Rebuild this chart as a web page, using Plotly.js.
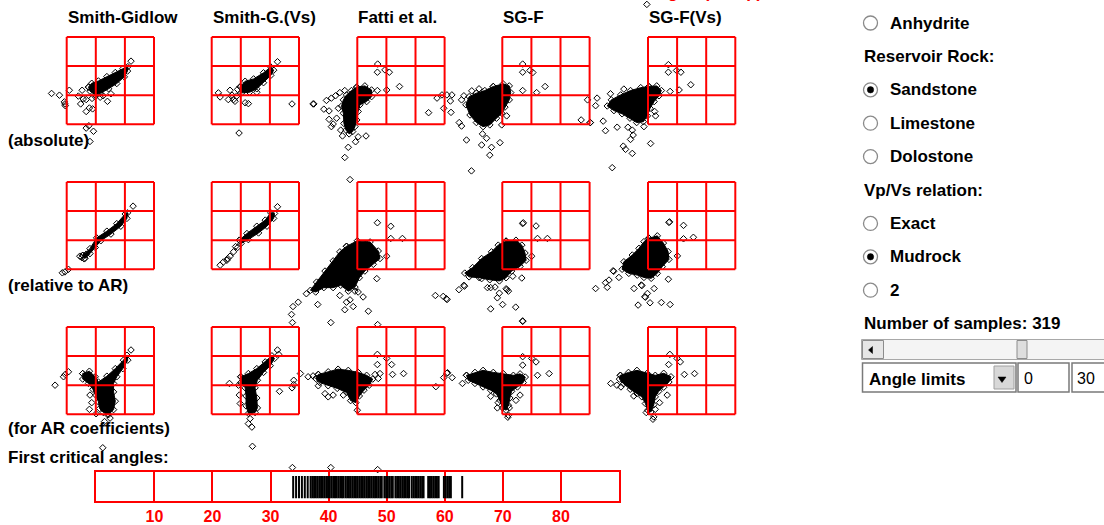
<!DOCTYPE html>
<html><head><meta charset="utf-8">
<script src="https://cdn.plot.ly/plotly-3.0.1.min.js"></script>
<style>html,body{margin:0;padding:0;background:#fff;overflow:hidden}#chart{width:1104px;height:525px}</style>
</head><body><div id="chart"></div>
<script>
// ---------------- DATA (panel-local units: red box spans 0..3 in u and v) ----------------
const methods = ["Smith-Gidlow", "Smith-G.(Vs)", "Fatti et al.", "SG-F", "SG-F(Vs)"];
const rowLabels = ["(absolute)", "(relative to AR)", "(for AR coefficients)"];
const stripLabel = "First critical angles:";
const hiddenTitle = "Log Vs(Vs Vp)";

// Row 1 : absolute
const absSG_blob = [[0.75,1.28],[0.86,1.41],[1.09,1.49],[1.38,1.64],[1.67,1.78],[1.93,1.91],[2.10,1.98],[2.09,1.83],[1.98,1.63],[1.72,1.40],[1.44,1.22],[1.15,1.06],[0.98,1.02],[0.80,1.14]];
const absSG_pts = [[-0.52,1.06],[-0.25,1.00],[0.09,1.17],[-0.08,0.77],[-0.05,0.64],[-0.06,0.70],[0.53,1.17],[0.57,0.87],[0.48,0.70],[0.67,0.85],[0.78,0.56],[0.67,0.44],[0.89,0.53],[0.87,0.89],[1.15,0.93],[1.40,0.79],[1.52,1.05],[0.76,-0.05],[0.67,-0.13],[0.92,-0.24],[0.80,-0.59],[2.21,2.17],[0.40,0.97],[0.98,0.95],[1.25,0.98]];
const absSGVs_blob = [[0.98,1.29],[1.15,1.48],[1.44,1.56],[1.78,1.77],[2.03,1.97],[2.13,1.86],[2.03,1.68],[1.78,1.43],[1.55,1.22],[1.30,1.10],[1.03,1.08]];
const absSGVs_pts = [[0.23,1.08],[0.29,0.94],[0.63,1.17],[0.57,0.85],[0.75,0.85],[0.86,0.97],[0.89,1.20],[1.15,0.74],[1.26,0.71],[1.55,1.10],[2.26,2.15],[2.76,0.70],[3.51,0.70],[0.94,-0.30],[0.80,0.79],[0.70,1.00]];
const absFatti_blob = [[-0.02,1.28],[0.26,1.32],[0.49,1.18],[0.49,0.95],[0.32,0.78],[0.09,0.67],[0.03,0.44],[-0.02,0.15],[-0.08,-0.08],[-0.16,-0.25],[-0.28,-0.33],[-0.39,-0.20],[-0.46,0.03],[-0.48,0.38],[-0.54,0.63],[-0.48,0.84],[-0.37,1.01],[-0.20,1.16]];
const absFatti_pts = [[-1.52,0.70],[-1.06,0.82],[-0.89,0.90],[-1.15,0.52],[-0.97,0.46],[-0.97,0.17],[-0.83,0.01],[-0.89,-0.08],[-0.71,0.21],[-0.60,1.09],[-0.43,1.16],[-0.51,-0.40],[-0.06,-0.60],[0.03,-0.43],[0.30,-0.40],[-0.31,-0.79],[-0.43,-1.14],[-0.25,-1.90],[0.70,2.07],[0.69,1.79],[0.95,1.87],[1.10,1.79],[1.45,1.30],[1.01,1.18],[0.69,1.16],[2.74,0.90],[2.91,1.01],[3.08,1.01],[3.25,1.01],[3.20,0.80],[2.97,0.55],[3.22,0.41],[2.45,0.40],[-0.57,-0.20],[-0.65,0.55],[-0.75,0.98]];
const absSGF_blob = [[-0.31,1.30],[0.03,1.39],[0.24,1.32],[0.29,1.09],[0.24,0.84],[0.09,0.59],[-0.02,0.38],[-0.20,0.21],[-0.43,-0.02],[-0.66,-0.08],[-0.89,0.06],[-1.11,0.32],[-1.25,0.67],[-1.14,0.95],[-0.89,1.07],[-0.60,1.16]];
const absSGF_pts = [[-1.48,0.06],[-1.40,-0.06],[-1.23,-0.54],[-0.71,-0.71],[-0.37,-0.79],[-0.43,-1.06],[-0.08,-0.63],[-1.06,-1.60],[-0.68,-0.33],[-0.54,-0.48],[0.70,2.07],[0.70,1.79],[0.95,1.85],[1.05,1.78],[1.47,1.30],[1.18,1.09],[0.70,1.16],[0.15,0.29],[-0.02,-0.02],[2.93,0.84],[3.02,0.06],[2.71,0.15],[-1.40,0.84],[-1.32,0.98],[-1.05,1.15],[-0.80,1.22]];
const absSGFVs_blob = [[0.03,1.30],[0.30,1.32],[0.46,1.16],[0.38,0.98],[0.21,0.78],[0.07,0.55],[-0.02,0.29],[-0.16,0.09],[-0.39,0.06],[-0.62,0.21],[-0.89,0.36],[-1.17,0.47],[-1.40,0.63],[-1.26,0.84],[-0.94,1.01],[-0.60,1.16],[-0.25,1.26]];
const absSGFVs_pts = [[-1.75,0.90],[-1.80,0.64],[-1.98,0.06],[-1.54,0.11],[-1.46,-0.22],[-1.06,-0.10],[-0.69,-0.10],[-0.54,-0.20],[-0.51,-0.37],[-0.60,-0.52],[-0.85,-0.75],[-0.77,-0.86],[-0.54,-1.00],[0.09,-0.66],[-1.23,-1.49],[-0.14,-0.08],[0.26,0.29],[0.23,0.44],[0.70,2.05],[0.70,1.79],[0.98,1.85],[1.13,1.79],[1.47,1.36],[1.07,1.18],[0.76,1.13],[-0.83,1.21],[-1.29,1.05],[-0.04,4.12]];

// Row 2 : relative to AR
const relSG_blob = [[0.55,0.48],[0.80,0.71],[1.03,1.08],[1.38,1.31],[1.72,1.57],[2.01,1.90],[2.09,1.94],[2.07,1.75],[1.86,1.48],[1.52,1.21],[1.17,0.98],[0.98,0.75],[0.80,0.54],[0.63,0.38]];
const relSG_pts = [[2.28,2.17],[0.06,0.00],[-0.06,-0.09],[-0.15,-0.12],[0.52,0.40],[0.67,0.52],[0.45,0.45],[0.60,0.36]];
const relSGVs_blob = [[0.95,1.00],[1.21,1.23],[1.55,1.48],[1.84,1.69],[2.03,1.94],[2.16,1.92],[2.13,1.75],[1.90,1.48],[1.61,1.25],[1.26,1.02],[1.01,0.89]];
const relSGVs_pts = [[0.29,0.14],[0.55,0.37],[0.63,0.45],[0.75,0.60],[0.89,0.75],[2.26,2.15],[0.52,0.31],[0.40,0.25],[0.82,0.78]];
const relFatti_blob = [[-0.37,0.79],[0.00,0.98],[0.44,0.94],[0.72,0.63],[0.78,0.37],[0.55,0.17],[0.26,-0.06],[0.07,-0.29],[-0.08,-0.61],[-0.31,-0.75],[-0.57,-0.55],[-0.83,-0.63],[-1.15,-0.63],[-1.43,-0.78],[-1.61,-0.72],[-1.40,-0.44],[-1.11,-0.06],[-0.83,0.29],[-0.60,0.60]];
const relFatti_pts = [[0.69,1.60],[1.15,1.48],[1.15,1.06],[1.55,1.06],[1.01,0.45],[0.67,-0.32],[0.38,-1.44],[-0.14,-1.28],[-0.43,-1.39],[-0.08,-0.75],[-0.37,-1.13],[-1.75,-0.84],[-2.03,-1.13],[-2.21,-1.28],[-2.26,-1.55],[-1.36,-1.21],[-0.60,-0.90],[0.03,-0.78],[-2.23,-1.83],[-0.91,-1.83],[0.70,-1.90],[-0.25,-1.05],[0.20,-0.95]];
const relSGF_blob = [[0.13,0.97],[0.47,1.00],[0.67,0.83],[0.78,0.56],[0.82,0.31],[0.61,0.10],[0.32,-0.06],[0.13,-0.29],[-0.10,-0.40],[-0.43,-0.36],[-0.79,-0.29],[-1.14,-0.26],[-1.29,-0.13],[-1.02,0.06],[-0.71,0.37],[-0.37,0.60],[-0.14,0.83]];
const relSGF_pts = [[0.70,1.57],[0.72,1.60],[1.16,1.49],[1.21,1.06],[1.55,1.06],[1.01,0.45],[0.67,-0.30],[0.36,-0.24],[-0.40,-0.63],[-0.25,-0.61],[0.13,-0.67],[0.16,-0.70],[0.21,-0.75],[-0.10,-0.82],[-0.17,-0.98],[0.01,-1.21],[-0.40,-1.36],[0.46,-1.30],[0.70,-1.79],[-1.32,-0.55],[-1.30,-0.58],[-1.49,-0.70],[-1.92,-1.01],[-1.90,-1.04],[-2.03,-0.93],[-2.30,-0.90],[-0.71,-0.32],[-0.51,-0.63]];
const relSGFVs_blob = [[0.03,1.07],[0.32,1.15],[0.53,0.90],[0.69,0.61],[0.72,0.34],[0.49,0.09],[0.32,-0.14],[0.11,-0.31],[-0.14,-0.28],[-0.37,-0.20],[-0.66,-0.14],[-0.89,0.00],[-0.83,0.26],[-0.54,0.49],[-0.31,0.72],[-0.14,0.95]];
const relSGFVs_pts = [[0.72,1.61],[0.74,1.63],[1.22,1.51],[1.22,1.05],[1.56,1.10],[1.01,0.46],[0.70,-0.34],[-1.20,-0.05],[-1.18,-0.07],[-1.34,-0.37],[-1.46,-0.46],[-1.80,-0.66],[-1.40,-0.62],[-1.00,-0.28],[-0.48,-0.66],[-0.23,-0.54],[-0.21,-0.56],[-0.11,-0.94],[-0.09,-0.96],[-0.02,-0.83],[0.21,-0.66],[-0.34,-1.23],[0.07,-1.15],[0.46,-1.14],[0.76,-1.21]];

// Row 3 : for AR coefficients
const arSG_blob = [[0.55,1.40],[0.78,1.48],[0.98,1.29],[1.09,1.11],[1.38,1.31],[1.67,1.57],[1.95,1.86],[2.07,2.03],[2.10,1.86],[1.93,1.57],[1.72,1.29],[1.61,1.06],[1.61,0.77],[1.67,0.45],[1.61,0.16],[1.44,-0.01],[1.26,0.06],[1.13,0.20],[1.09,0.43],[1.00,0.66],[0.90,0.86],[0.75,1.06],[0.55,1.21]];
const arSG_pts = [[2.21,2.21],[-0.40,1.00],[-0.11,1.29],[-0.05,1.37],[0.06,1.46],[0.80,0.66],[0.86,0.40],[0.78,0.17],[1.49,-0.13],[1.40,-0.01],[1.01,0.02],[1.24,-1.15],[1.30,-0.25]];
const arSGVs_blob = [[1.00,1.29],[1.26,1.40],[1.55,1.57],[1.84,1.80],[2.07,2.01],[2.16,1.92],[2.01,1.67],[1.78,1.44],[1.57,1.17],[1.49,0.91],[1.55,0.56],[1.57,0.22],[1.49,0.06],[1.26,0.03],[1.18,0.29],[1.18,0.63],[1.15,0.91],[1.00,1.09]];
const arSGVs_pts = [[1.32,-0.15],[1.26,-0.32],[1.38,-0.44],[1.40,-1.10],[0.61,1.06],[0.92,1.00],[0.95,0.66],[0.98,0.37],[2.26,2.21],[2.30,2.06],[2.82,1.17],[2.82,1.02],[2.76,0.91],[2.33,0.79],[3.05,1.40]];
const arFatti_blob = [[-1.34,1.37],[-1.00,1.46],[-0.66,1.55],[-0.31,1.51],[0.03,1.44],[0.32,1.34],[0.53,1.21],[0.41,1.00],[0.23,0.83],[0.07,0.63],[-0.05,0.40],[-0.23,0.47],[-0.37,0.75],[-0.69,0.89],[-1.00,0.98],[-1.29,1.09],[-1.43,1.23]];
const arFatti_pts = [[-1.69,1.29],[-1.52,1.32],[-1.34,0.98],[-1.11,0.71],[-1.00,0.60],[-0.83,0.66],[-0.48,0.66],[0.61,1.37],[0.78,1.40],[0.72,1.23],[0.69,2.06],[0.69,1.71],[1.01,1.92],[1.18,1.71],[1.59,1.40],[1.21,1.37],[0.00,0.14],[3.08,1.41],[3.10,1.43],[3.26,1.26],[2.97,1.26],[2.70,0.95],[-2.23,-1.83],[-0.91,-1.83],[0.70,-1.90]];
const arSGF_blob = [[-1.23,1.34],[-0.94,1.44],[-0.66,1.51],[-0.31,1.44],[0.03,1.40],[0.38,1.34],[0.61,1.39],[0.79,1.28],[0.72,1.09],[0.52,0.94],[0.32,0.79],[0.26,0.56],[0.21,0.31],[0.13,0.14],[0.01,0.22],[-0.08,0.48],[-0.20,0.70],[-0.40,0.83],[-0.66,0.94],[-0.94,1.06],[-1.17,1.17]];
const arSGF_pts = [[-1.37,1.06],[-0.40,0.62],[-0.14,0.40],[-0.17,0.22],[0.24,0.22],[0.21,-0.03],[0.19,-0.10],[0.61,0.66],[0.47,0.48],[0.70,3.21],[0.70,1.98],[0.70,1.69],[1.01,1.92],[1.16,1.80],[1.21,1.34],[1.61,1.40]];
const arSGFVs_blob = [[-0.95,1.34],[-0.67,1.44],[-0.38,1.51],[-0.03,1.41],[0.25,1.34],[0.54,1.41],[0.79,1.29],[0.72,1.11],[0.54,0.93],[0.37,0.79],[0.25,0.60],[0.20,0.33],[0.10,0.08],[-0.01,0.14],[-0.09,0.37],[-0.21,0.60],[-0.38,0.71],[-0.61,0.86],[-0.84,1.05],[-0.98,1.21]];
const arSGFVs_pts = [[-1.28,1.06],[-1.07,1.00],[-0.93,0.94],[-0.49,0.63],[0.40,0.40],[0.66,0.66],[0.25,0.17],[-0.06,0.06],[0.20,-0.09],[0.17,-0.17],[0.75,2.06],[0.71,1.71],[1.00,1.92],[1.11,1.80],[1.25,1.37],[1.60,1.40]];

// First critical angles (degrees), one tick per sample
const critAngles = [33.9,34.4,34.9,35.4,35.9,36.4,36.9,37.2,37.5,37.8,38.1,38.4,38.7,39.0,39.3,39.6,39.9,40.2,40.5,40.8,41.1,41.4,41.7,42.0,42.3,42.55,42.9,43.2,43.5,43.8,44.1,44.4,44.7,45.0,45.3,45.6,45.9,46.2,46.5,46.8,47.1,47.4,47.7,48.0,48.3,48.6,48.9,49.15,49.6,49.9,50.2,50.5,50.8,51.05,51.5,51.8,52.1,52.4,52.7,53.0,53.3,53.6,53.85,54.3,54.6,54.9,55.2,55.5,55.8,56.1,56.35,57.15,57.45,57.75,58.05,58.35,58.65,58.95,59.85,60.15,60.45,60.75,61.05,63.0];
const angleTicks = [10,20,30,40,50,60,70,80];

// Control panel contents
const controlItems = ["Anhydrite","Reservoir Rock:","Sandstone","Limestone","Dolostone","Vp/Vs relation:","Exact","Mudrock","2"];
const controlKinds = ["radio","heading","radio","radio","radio","heading","radio","radio","radio"];
const controlSelected = [false,false,true,false,false,false,false,true,false];
const nSamples = 319;
const comboText = "Angle limits";
const angleLimits = ["0","30"];

// ---------------- LAYOUT GEOMETRY ----------------
const W = 1104, H = 525;
const CELL = 29.1;
const boxLeft = [66.7, 211.7, 357.3, 502.3, 648];
const boxBottom = [124.3, 269.3, 414.3];
const FONT = "Liberation Sans, Arial, Helvetica, sans-serif";

const panelData = [
  [[absSG_blob,absSG_pts],[absSGVs_blob,absSGVs_pts],[absFatti_blob,absFatti_pts],[absSGF_blob,absSGF_pts],[absSGFVs_blob,absSGFVs_pts]],
  [[relSG_blob,relSG_pts],[relSGVs_blob,relSGVs_pts],[relFatti_blob,relFatti_pts],[relSGF_blob,relSGF_pts],[relSGFVs_blob,relSGFVs_pts]],
  [[arSG_blob,arSG_pts],[arSGVs_blob,arSGVs_pts],[arFatti_blob,arFatti_pts],[arSGF_blob,arSGF_pts],[arSGFVs_blob,arSGFVs_pts]]
];

const mk = {symbol:'diamond-open', size:5, color:'#000', line:{width:1, color:'#000'}};
const traces = [];
const shapes = [];
const annotations = [];

panelData.forEach((row, r) => {
  row.forEach((pd, c) => {
    const gx = u => boxLeft[c] + CELL * u;
    const gy = v => boxBottom[r] - CELL * v;
    const blob = pd[0], pts = pd[1];
    const bx = blob.map(d => gx(d[0])); bx.push(bx[0]);
    const by = blob.map(d => gy(d[1])); by.push(by[0]);
    traces.push({type:'scatter', x:bx, y:by, mode:'lines+markers', fill:'toself', fillcolor:'#000',
      line:{color:'#000', width:1}, marker:mk, hoverinfo:'skip', showlegend:false, cliponaxis:false});
    traces.push({type:'scatter', x:pts.map(d => gx(d[0])), y:pts.map(d => gy(d[1])), mode:'markers',
      marker:mk, hoverinfo:'skip', showlegend:false, cliponaxis:false});
    // red 3x3 grid
    const L = boxLeft[c], B = boxBottom[r], S = 3 * CELL;
    for (let k = 0; k <= 3; k++) {
      shapes.push({type:'line', xref:'x', yref:'y', x0:L + k*CELL, x1:L + k*CELL, y0:B, y1:B - S, layer:'above', line:{color:'#ff0000', width:2}});
      shapes.push({type:'line', xref:'x', yref:'y', x0:L, x1:L + S, y0:B - k*CELL, y1:B - k*CELL, layer:'above', line:{color:'#ff0000', width:2}});
    }
  });
});

// critical angle strip
traces.push({type:'scatter', x:critAngles, y:critAngles.map(() => 0.48), xaxis:'x2', yaxis:'y2', mode:'markers',
  marker:{symbol:'line-ns-open', size:16, color:'#000', line:{width:2, color:'#000'}}, hoverinfo:'skip', showlegend:false});

function txt(x, y, t, opts) {
  opts = opts || {};
  annotations.push({xref:'x', yref:'y', x:x, y:y, text:t, showarrow:false, xanchor:opts.anchor || 'left', yanchor:'middle',
    font:{family:FONT, size:opts.size || 17, color:opts.color || '#000', weight:opts.weight || 'bold'}});
}

methods.forEach((m, c) => txt(boxLeft[c] - 1, 17, m));
rowLabels.forEach((lab, r) => txt(6, [140, 285, 428.5][r], lab));
txt(6, 457, stripLabel);
annotations.push({xref:'paper', yref:'paper', x:645/W, y:1 + 7/H, text:hiddenTitle, showarrow:false, xanchor:'left', yanchor:'middle',
  font:{family:FONT, size:17, color:'#ff0000', weight:'bold'}});

// control panel
controlItems.forEach((item, i) => {
  const yc = 23 + i * 33.4;
  if (controlKinds[i] === 'radio') {
    shapes.push({type:'circle', xref:'x', yref:'y', x0:863.5, x1:877.5, y0:yc - 7, y1:yc + 7, fillcolor:'#fff', line:{color:'#8a8a8a', width:1.3}});
    if (controlSelected[i]) {
      shapes.push({type:'circle', xref:'x', yref:'y', x0:867.3, x1:873.7, y0:yc - 3.2, y1:yc + 3.2, fillcolor:'#000', line:{color:'#000', width:0.5}});
    }
    txt(888, yc, item);
  } else {
    txt(862, yc, item);
  }
});
txt(862, 23 + 9 * 33.4, "Number of samples: " + nSamples);

// scrollbar
shapes.push({type:'rect', xref:'x', yref:'y', x0:861.5, x1:1110, y0:339.5, y1:359.5, fillcolor:'#f4f4f4', line:{color:'#a8a8a8', width:1}});
shapes.push({type:'rect', xref:'x', yref:'y', x0:862.5, x1:883.5, y0:340.5, y1:358.5, fillcolor:'#e6e6e6', line:{color:'#8c8c8c', width:1}});
shapes.push({type:'path', xref:'x', yref:'y', path:'M 872.5 346.5 L 868.5 350 L 872.5 353.5 Z', fillcolor:'#000', line:{color:'#000', width:0.5}});
shapes.push({type:'rect', xref:'x', yref:'y', x0:1017, x1:1027, y0:340.5, y1:358.5, fillcolor:'#dedede', line:{color:'#8c8c8c', width:1}});

// combo box + text fields
shapes.push({type:'rect', xref:'x', yref:'y', x0:862.5, x1:1016, y0:363, y1:392, fillcolor:'#fff', line:{color:'#7a7a7a', width:1.5}});
shapes.push({type:'rect', xref:'x', yref:'y', x0:994, x1:1014, y0:366, y1:389, fillcolor:'#d8d8d8', line:{color:'#a0a0a0', width:1}});
shapes.push({type:'path', xref:'x', yref:'y', path:'M 998 377 L 1006 377 L 1002 382.5 Z', fillcolor:'#000', line:{color:'#000', width:0.5}});
txt(866.5, 379, comboText);
shapes.push({type:'rect', xref:'x', yref:'y', x0:1018, x1:1069, y0:363, y1:392, fillcolor:'#fff', line:{color:'#7a7a7a', width:1.5}});
shapes.push({type:'rect', xref:'x', yref:'y', x0:1072, x1:1112, y0:363, y1:392, fillcolor:'#fff', line:{color:'#7a7a7a', width:1.5}});
txt(1021.5, 378, angleLimits[0], {weight:'normal', size:16});
txt(1075, 378, angleLimits[1], {weight:'normal', size:16});

const layout = {
  width: W, height: H, margin:{l:0, r:0, t:0, b:0, pad:0},
  paper_bgcolor:'#fff', plot_bgcolor:'rgba(0,0,0,0)', showlegend:false,
  xaxis:{domain:[0,1], range:[0,W], visible:false, fixedrange:true},
  yaxis:{domain:[0,1], range:[H,0], visible:false, fixedrange:true},
  xaxis2:{domain:[96.3/W, 619/W], range:[0,90], anchor:'y2', tickvals:angleTicks, ticktext:angleTicks.map(String),
    showgrid:true, gridcolor:'#ff0000', gridwidth:2, showline:true, linecolor:'#ff0000', linewidth:2, mirror:true,
    zeroline:false, ticks:'', tickfont:{family:FONT, size:16, color:'#ff0000', weight:'bold'}, fixedrange:true},
  yaxis2:{domain:[(H-501)/H, (H-472)/H], range:[0,1], anchor:'x2', showgrid:false, showline:true, linecolor:'#ff0000',
    linewidth:2, mirror:true, zeroline:false, showticklabels:false, ticks:'', fixedrange:true},
  shapes: shapes, annotations: annotations
};
Plotly.newPlot('chart', traces, layout, {displayModeBar:false, staticPlot:true});
</script></body></html>
